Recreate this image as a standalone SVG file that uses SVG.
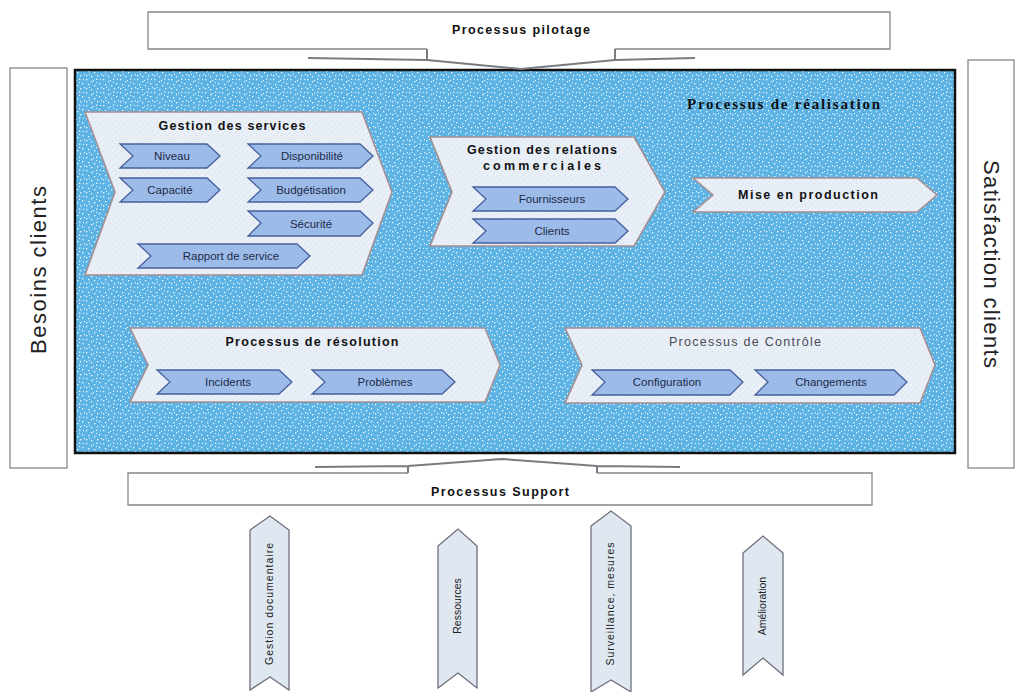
<svg xmlns="http://www.w3.org/2000/svg" width="1015" height="692" viewBox="0 0 1015 692">
<defs>
<pattern id="dots" width="17" height="13" patternUnits="userSpaceOnUse">
<rect width="17" height="13" fill="#5db4e4"/>
<g fill="#ffffff" opacity="0.9">
<rect x="1" y="1" width="1.3" height="1.3"/><rect x="6" y="3" width="1.3" height="1.3"/><rect x="11" y="0.5" width="1.3" height="1.3"/>
<rect x="14" y="5" width="1.3" height="1.3"/><rect x="3" y="6" width="1.3" height="1.3"/><rect x="9" y="7" width="1.3" height="1.3"/>
<rect x="1" y="10" width="1.3" height="1.3"/><rect x="6" y="11" width="1.3" height="1.3"/><rect x="12" y="10" width="1.3" height="1.3"/>
<rect x="16" y="9" width="1" height="1.3"/><rect x="8" y="2" width="1" height="1"/><rect x="4" y="9" width="1" height="1"/>
<rect x="15" y="1" width="1" height="1"/><rect x="11" y="4" width="1" height="1"/>
</g>
</pattern>
<pattern id="stip" width="6" height="6" patternUnits="userSpaceOnUse">
<rect width="6" height="6" fill="#e9eff7"/>
<rect x="1" y="1" width="1" height="1" fill="#d3dcea"/><rect x="4" y="3" width="1" height="1" fill="#d3dcea"/><rect x="2" y="5" width="1" height="1" fill="#dde4ef"/>
</pattern>
<style>
.big{fill:url(#stip);stroke:#a58f92;stroke-width:1.6}
.sub{fill:#9dbbe9;stroke:#45609c;stroke-width:1.3}
.t{font-family:"Liberation Sans",Arial,sans-serif;font-size:11.5px;fill:#1c2b48;text-anchor:middle}
.h{font-family:"Liberation Sans",Arial,sans-serif;font-size:12.5px;font-weight:bold;fill:#111;text-anchor:middle}
.frame{fill:#fff;stroke:#8c8488;stroke-width:1.3}
.bar{fill:#dfe7f1;stroke:#6f6f7c;stroke-width:1.3}
.vt{font-family:"Liberation Sans",Arial,sans-serif;font-size:10.5px;fill:#222;text-anchor:middle}
.wing{fill:none;stroke:#7a7a80;stroke-width:2}
</style>
</defs>
<rect width="1015" height="692" fill="#ffffff"/>

<g id="pilotage">
<path class="frame" d="M427,49 H148 V12 H890 V49 H615"/>
<text class="h" x="521" y="34" font-size="11.5" textLength="138" lengthAdjust="spacing">Processus pilotage</text>
</g>

<g id="besoins">
<rect class="frame" x="10" y="68" width="57" height="400"/>
<text x="0" y="0" transform="translate(46,270) rotate(-90)" font-family="Liberation Sans,Arial,sans-serif" font-size="22" fill="#222" text-anchor="middle" textLength="168" lengthAdjust="spacing">Besoins clients</text>
</g>

<g id="satisfaction">
<rect class="frame" x="968" y="60" width="46" height="408"/>
<text x="0" y="0" transform="translate(984,264) rotate(90)" font-family="Liberation Sans,Arial,sans-serif" font-size="22" fill="#222" text-anchor="middle" textLength="208" lengthAdjust="spacing">Satisfaction clients</text>
</g>

<g id="realisation">
<rect x="75" y="70" width="880" height="383" fill="url(#dots)" stroke="#111" stroke-width="2.5"/>
<text x="687" y="109" font-family="Liberation Serif,Times New Roman,serif" font-size="15" font-weight="bold" fill="#111" textLength="193" lengthAdjust="spacing">Processus de réalisation</text>
</g>

<g id="gestion-services">
<path class="big" d="M85,112 H362 L392,192 L362,275 H85 L115,192 Z"/>
<text class="h" x="232" y="130" textLength="147" lengthAdjust="spacing">Gestion des services</text>
</g>
<g id="niveau"><path class="sub" d="M120,144 H207 L220,156 L207,168 H120 L133,156 Z"/><text class="t" x="172" y="160">Niveau</text></g>
<g id="disponibilite"><path class="sub" d="M248,144 H360 L373,156 L360,168 H248 L261,156 Z"/><text class="t" x="312" y="160">Disponibilité</text></g>
<g id="capacite"><path class="sub" d="M120,178 H207 L220,190 L207,202 H120 L133,190 Z"/><text class="t" x="170" y="194">Capacité</text></g>
<g id="budgetisation"><path class="sub" d="M248,178 H360 L373,190 L360,202 H248 L261,190 Z"/><text class="t" x="311" y="194">Budgétisation</text></g>
<g id="securite"><path class="sub" d="M248,211 H360 L373,223 L360,236 H248 L261,223 Z"/><text class="t" x="311" y="228">Sécurité</text></g>
<g id="rapport"><path class="sub" d="M138,244 H297 L310,256 L297,268 H138 L151,256 Z"/><text class="t" x="231" y="260">Rapport de service</text></g>

<g id="gestion-relations">
<path class="big" d="M430,137 H634 L665,192 L634,246 H430 L452,192 Z"/>
<text class="h" x="542" y="154" textLength="150" lengthAdjust="spacing">Gestion des relations</text>
<text class="h" x="542" y="170" textLength="118" lengthAdjust="spacing">commerciales</text>
</g>
<g id="fournisseurs"><path class="sub" d="M473,187 H615 L628,199 L615,211 H473 L486,199 Z"/><text class="t" x="552" y="203">Fournisseurs</text></g>
<g id="clients"><path class="sub" d="M473,219 H615 L628,231 L615,243 H473 L486,231 Z"/><text class="t" x="552" y="235">Clients</text></g>

<g id="mise-production">
<path class="big" d="M693,178 H917 L937,195 L917,212 H693 L713,195 Z"/>
<text class="h" x="808" y="199" textLength="140" lengthAdjust="spacing">Mise en production</text>
</g>

<g id="resolution">
<path class="big" d="M130,328 H485 L500,365 L485,402 H130 L148,365 Z"/>
<text class="h" x="312" y="346" textLength="173" lengthAdjust="spacing">Processus de résolution</text>
</g>
<g id="incidents"><path class="sub" d="M157,370 H279 L292,382 L279,394 H157 L170,382 Z"/><text class="t" x="228" y="386">Incidents</text></g>
<g id="problemes"><path class="sub" d="M312,370 H442 L455,382 L442,394 H312 L325,382 Z"/><text class="t" x="385" y="386">Problèmes</text></g>

<g id="controle">
<path class="big" d="M565,328 H920 L935,365 L920,403 H565 L582,365 Z"/>
<text x="745" y="346" font-family="Liberation Sans,Arial,sans-serif" font-size="12.5" fill="#4a4a55" text-anchor="middle" textLength="152" lengthAdjust="spacing">Processus de Contrôle</text>
</g>
<g id="configuration"><path class="sub" d="M592,370 H730 L743,382 L730,395 H592 L605,382 Z"/><text class="t" x="667" y="386">Configuration</text></g>
<g id="changements"><path class="sub" d="M755,370 H894 L907,382 L894,395 H755 L768,382 Z"/><text class="t" x="831" y="386">Changements</text></g>

<g id="support">
<path class="frame" d="M408,473 H128 V505 H872 V473 H597"/>
<text class="h" x="500" y="496" font-size="11.5" textLength="138" lengthAdjust="spacing">Processus Support</text>
</g>

<g id="connectors">
<path class="wing" d="M427,49 V59 M615,49 V59 M308,58 L427,60 L521,69 L615,60 L695,58"/>
<path class="wing" d="M408,473 V466 M597,473 V466 M315,467 L408,466 L502,459 L597,466 L680,467"/>
</g>

<g id="gestion-doc">
<path class="bar" d="M250,530 L270,516 L289,530 V690 L270,677 L250,690 Z"/>
<text class="vt" transform="translate(273,604) rotate(-90)" textLength="122" lengthAdjust="spacing">Gestion documentaire</text>
</g>
<g id="ressources">
<path class="bar" d="M438,546 L458,529 L477,546 V688 L458,673 L438,688 Z"/>
<text class="vt" transform="translate(461,606) rotate(-90)">Ressources</text>
</g>
<g id="surveillance">
<path class="bar" d="M591,526 L611,511 L631,526 V692 L611,680 L591,692 Z"/>
<text class="vt" transform="translate(614,604) rotate(-90)" textLength="123" lengthAdjust="spacing">Surveillance, mesures</text>
</g>
<g id="amelioration">
<path class="bar" d="M743,553 L763,536 L783,553 V675 L763,658 L743,675 Z"/>
<text class="vt" transform="translate(766,606) rotate(-90)">Amélioration</text>
</g>
</svg>
